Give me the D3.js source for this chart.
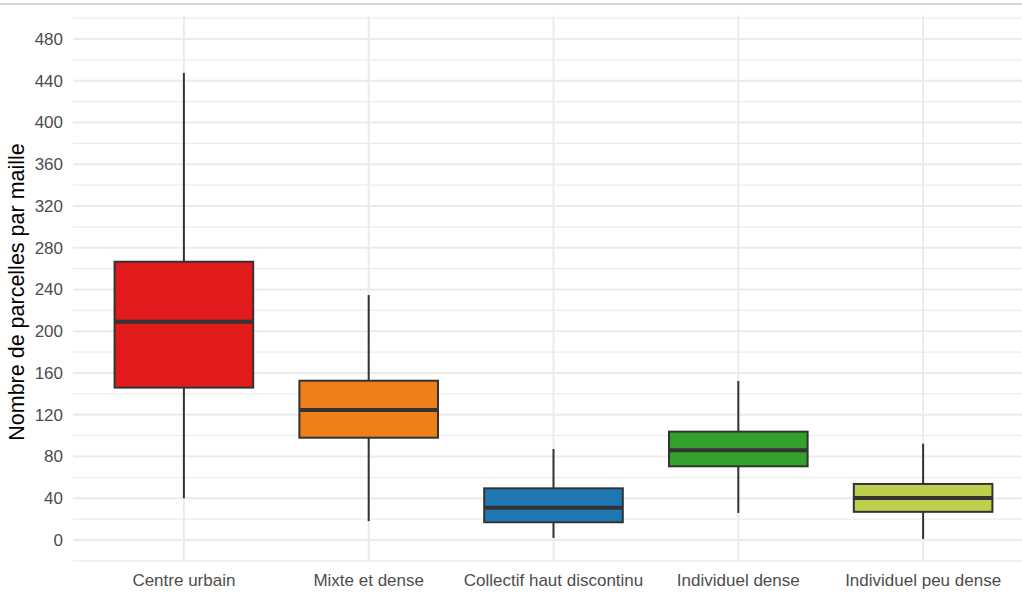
<!DOCTYPE html>
<html><head><meta charset="utf-8">
<script src="https://cdn.jsdelivr.net/npm/d3@7"></script>
<style>body{margin:0;background:#fff;} svg{display:block;font-family:"Liberation Sans",Arial,sans-serif;}</style>
</head><body>
<svg id="c" width="1022" height="594"></svg>
<script>
const categories = ["Centre urbain","Mixte et dense","Collectif haut discontinu","Individuel dense","Individuel peu dense"];
const whiskerLow = [40, 18, 2, 26, 1];
const q1 = [146, 98, 17, 70.6, 27];
const median = [209, 124.6, 31, 85.9, 40.2];
const q3 = [266.6, 152.6, 49.5, 103.8, 53.7];
const whiskerHigh = [447.5, 234.7, 87.2, 152.3, 92.3];
const colors = ["#E31A1C","#EE7F1B","#1F78B4","#33A02C","#BDCF4C"];
const yTicks = [0,40,80,120,160,200,240,280,320,360,400,440,480];
const yMinor = [-20,20,60,100,140,180,220,260,300,340,380,420,460,500];

const svg = d3.select("#c");
const y = d3.scaleLinear().domain([0,480]).range([540,39]);
const x = d3.scaleBand().domain(categories).range([73,1034]).paddingOuter(0.1).paddingInner(0);
const step = x.step();
const cx = d => x(d) + x.bandwidth()/2;

// top border
svg.append("line").attr("x1",0).attr("x2",1022).attr("y1",4).attr("y2",4).attr("stroke","#d6d6d6").attr("stroke-width",2);

const g = svg.append("g");
g.selectAll(".mn").data(yMinor).join("line")
  .attr("x1",73).attr("x2",1022).attr("y1",d=>y(d)).attr("y2",d=>y(d))
  .attr("stroke","#ececec").attr("stroke-width",1.2);
g.selectAll(".mj").data(yTicks).join("line")
  .attr("x1",73).attr("x2",1022).attr("y1",d=>y(d)).attr("y2",d=>y(d))
  .attr("stroke","#ebebeb").attr("stroke-width",2);
g.selectAll(".vg").data(categories).join("line")
  .attr("x1",cx).attr("x2",cx).attr("y1",y(500)-3).attr("y2",y(-20)+1)
  .attr("stroke","#ebebeb").attr("stroke-width",2);

const yAxis = d3.axisLeft(y).tickValues(yTicks).tickSize(0).tickPadding(0);
const ya = svg.append("g").attr("transform","translate(63,0)").call(yAxis);
ya.select(".domain").remove();
ya.selectAll("text").attr("fill","#4d4d4d").attr("font-size","17px").attr("font-family","Liberation Sans, Arial, sans-serif");

const xAxis = d3.axisBottom(x).tickSize(0).tickPadding(0);
const xa = svg.append("g").attr("transform","translate(0,574)").call(xAxis);
xa.select(".domain").remove();
xa.selectAll("text").attr("fill","#4d4d4d").attr("font-size","17px").attr("font-family","Liberation Sans, Arial, sans-serif");

svg.append("text").attr("transform","translate(24,292) rotate(-90)")
  .attr("text-anchor","middle").attr("font-size","21.5px").attr("fill","#000")
  .text("Nombre de parcelles par maille");

const bw = step*0.75;
const boxes = svg.append("g");
categories.forEach((c,i)=>{
  const xc = cx(c);
  boxes.append("line").attr("x1",xc).attr("x2",xc).attr("y1",y(whiskerHigh[i])).attr("y2",y(q3[i]))
    .attr("stroke","#333").attr("stroke-width",2);
  boxes.append("line").attr("x1",xc).attr("x2",xc).attr("y1",y(q1[i])).attr("y2",y(whiskerLow[i]))
    .attr("stroke","#333").attr("stroke-width",2);
  boxes.append("rect").attr("x",xc-bw/2).attr("width",bw)
    .attr("y",y(q3[i])).attr("height",y(q1[i])-y(q3[i]))
    .attr("fill",colors[i]).attr("stroke","#333").attr("stroke-width",2);
  boxes.append("line").attr("x1",xc-bw/2).attr("x2",xc+bw/2).attr("y1",y(median[i])).attr("y2",y(median[i]))
    .attr("stroke","#333").attr("stroke-width",4);
});
</script>
</body></html>
